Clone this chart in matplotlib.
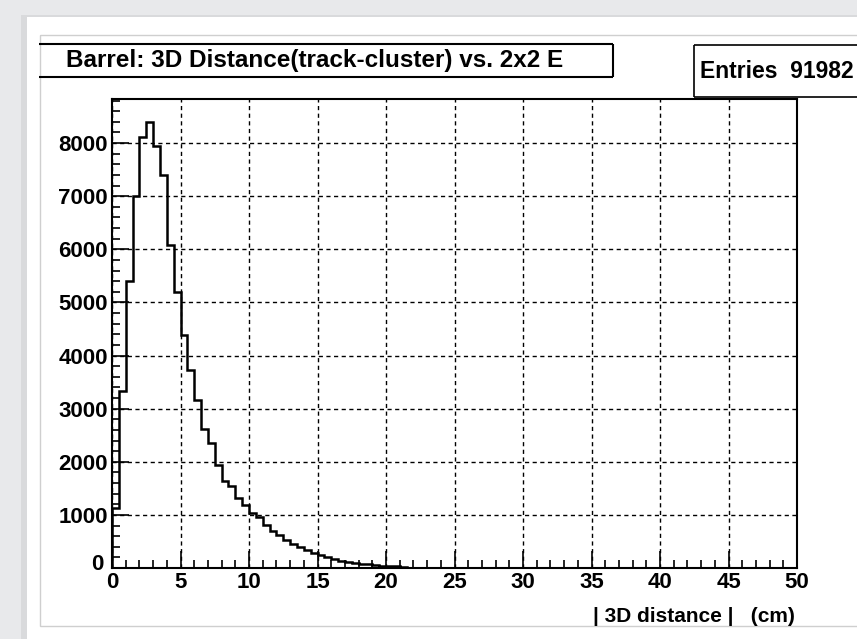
import numpy as np
import matplotlib
matplotlib.use('Agg')
import matplotlib.pyplot as plt
from matplotlib.patches import Rectangle
from matplotlib.ticker import MultipleLocator, FixedLocator
from matplotlib.transforms import ScaledTranslation

# ---- data ----
counts = [1130, 3330, 5410, 7000, 8110, 8400, 7950, 7400, 6080, 5190,
          4390, 3720, 3170, 2620, 2350, 1940, 1640, 1550, 1315, 1189,
          1032, 957, 811, 704, 623, 528, 453, 391, 340, 277,
          245, 202, 165, 140, 110, 95, 80, 70, 60, 45,
          40, 30, 20]
bin_width = 0.5
x_major = [0, 5, 10, 15, 20, 25, 30, 35, 40, 45, 50]
y_major = [0, 1000, 2000, 3000, 4000, 5000, 6000, 7000, 8000]
title = "Barrel: 3D Distance(track-cluster) vs. 2x2 E"
entries = 91982
xlabel = "| 3D distance |   (cm)"
x_range = (0, 50)
y_max = 8830

FONT = ['Liberation Sans', 'DejaVu Sans']
plt.rcParams['font.family'] = FONT

W, H = 857, 639
fig = plt.figure(figsize=(W / 100, H / 100), dpi=100)
fig.patch.set_facecolor('#e8e9eb')

# background / page decorations in pixel coordinates
bg = fig.add_axes([0, 0, 1, 1], zorder=0)
bg.set_xlim(0, W)
bg.set_ylim(H, 0)
bg.axis('off')
bg.add_patch(Rectangle((21, 15), W, H, facecolor='#d9dadc', edgecolor='none'))
bg.add_patch(Rectangle((27, 17), W, H, facecolor='white', edgecolor='none'))
bg.add_patch(Rectangle((40, 35), W, 591, facecolor='none', edgecolor='#cfcfcf', lw=1))

# title box (top, bottom, right edges)
bg.plot([39, 613], [44, 44], color='black', lw=1.5, solid_capstyle='butt')
bg.plot([39, 613], [77, 77], color='black', lw=1.5, solid_capstyle='butt')
bg.plot([613, 613], [44, 77], color='black', lw=1.5, solid_capstyle='butt')
bg.text(66, 61, title, fontsize=17.5, fontweight='bold', ha='left', va='center')

# stats box
bg.plot([694, 870], [45, 45], color='black', lw=1.2, solid_capstyle='butt')
bg.plot([694, 870], [97, 97], color='black', lw=1.2, solid_capstyle='butt')
bg.plot([694, 694], [45, 97], color='black', lw=1.2, solid_capstyle='butt')
bg.text(700, 71, f"Entries  {entries}", fontsize=16.5, fontweight='bold',
        ha='left', va='center')

# x axis title
bg.text(795, 617, xlabel, fontsize=15, fontweight='bold', ha='right', va='center')

# main plot
ax = fig.add_axes([112 / W, 1 - 568 / H, 685 / W, 469 / H], zorder=1)
ax.set_facecolor('white')
edges = np.arange(len(counts) + 1) * bin_width
ax.stairs(counts, edges, color='black', lw=1.8, baseline=0, zorder=3)
ax.set_xlim(*x_range)
ax.set_ylim(0, y_max)

ax.xaxis.set_major_locator(FixedLocator(x_major))
ax.yaxis.set_major_locator(FixedLocator(y_major))
ax.xaxis.set_minor_locator(MultipleLocator(1))
ax.yaxis.set_minor_locator(MultipleLocator(200))
ax.tick_params(which='both', direction='in', top=False, right=False, width=1.2, color='black')
ax.tick_params(which='major', length=12.5, labelsize=16, pad=3)
ax.tick_params(which='minor', length=6)
ax.set_xticklabels([str(v) for v in x_major], fontweight='bold')
ax.set_yticklabels([str(v) for v in y_major], fontweight='bold')
ax.tick_params(axis='y', pad=3)
# ROOT-style offset of the y "0" label
ylabs = ax.get_yticklabels()
ylabs[0].set_transform(ylabs[0].get_transform() + ScaledTranslation(-4 / 100, 6 / 100, fig.dpi_scale_trans))

ax.grid(True, which='major', color='black', lw=1.0, linestyle=(0, (3, 2.5)))
for s in ax.spines.values():
    s.set_linewidth(1.5)
    s.set_color('black')

fig.savefig('out.png', dpi=100, facecolor=fig.get_facecolor())
